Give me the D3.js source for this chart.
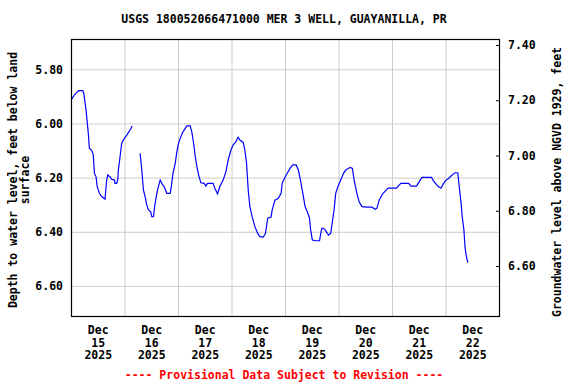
<!DOCTYPE html>
<html>
<head>
<meta charset="utf-8">
<script src="https://cdn.jsdelivr.net/npm/d3@7"></script>
<style>
  body { margin: 0; background: #fff; }
  text { font-family: "DejaVu Sans Mono", monospace; font-weight: bold; }
</style>
</head>
<body>
<div id="chart"></div>
<script>
// depth to water level, feet below land surface (null = gap in record)
const times = [
  "12-15 00:15","12-15 01:30","12-15 02:30","12-15 03:30","12-15 05:15","12-15 05:45","12-15 06:45","12-15 07:15",
  "12-15 07:45","12-15 08:15","12-15 09:15","12-15 10:00","12-15 10:30","12-15 11:15","12-15 11:45","12-15 12:45",
  "12-15 13:45","12-15 15:15","12-15 16:00","12-15 16:30","12-15 17:30","12-15 18:15","12-15 19:30","12-15 19:45",
  "12-15 20:30","12-15 21:00","12-15 21:15","12-15 22:00","12-15 22:45","12-15 23:30","12-16 01:00","12-16 02:30",
  "12-16 03:30","12-16 05:00",
  "12-16 07:00","12-16 07:45","12-16 08:30","12-16 09:15","12-16 10:00","12-16 10:45","12-16 11:45","12-16 12:15",
  "12-16 13:00","12-16 13:30","12-16 14:30","12-16 15:15","12-16 16:00","12-16 16:45","12-16 17:45","12-16 19:00",
  "12-16 20:30","12-16 21:00","12-16 21:45","12-16 22:45","12-16 23:30","12-17 00:15","12-17 01:00","12-17 02:00",
  "12-17 03:15","12-17 04:00","12-17 05:30","12-17 06:15","12-17 07:00","12-17 07:45","12-17 08:30","12-17 09:15",
  "12-17 10:15","12-17 11:45","12-17 12:30","12-17 13:15","12-17 15:45","12-17 16:30","12-17 17:45","12-17 18:45",
  "12-17 20:15","12-17 21:30","12-17 22:30","12-17 23:45","12-18 00:45","12-18 02:00","12-18 03:00","12-18 03:45",
  "12-18 05:15","12-18 06:00","12-18 06:45","12-18 07:30","12-18 08:15","12-18 09:15","12-18 10:30","12-18 11:45",
  "12-18 12:45","12-18 14:15","12-18 15:15","12-18 16:15","12-18 17:45","12-18 18:15","12-18 19:30","12-18 21:00",
  "12-18 22:15","12-18 22:45","12-18 23:45","12-19 01:00","12-19 02:15","12-19 03:30","12-19 05:00","12-19 06:00",
  "12-19 06:45","12-19 08:00","12-19 09:00","12-19 10:00","12-19 11:00","12-19 11:30","12-19 12:15","12-19 13:30",
  "12-19 15:30","12-19 15:45","12-19 16:30","12-19 17:15","12-19 18:00","12-19 19:00","12-19 19:30","12-19 20:30",
  "12-19 21:15","12-19 22:00","12-19 22:45","12-19 23:45","12-20 01:00","12-20 02:15","12-20 03:15","12-20 05:15",
  "12-20 06:15","12-20 07:00","12-20 08:15","12-20 09:15","12-20 10:30","12-20 12:45","12-20 15:00","12-20 16:30",
  "12-20 17:15","12-20 18:15","12-20 19:30","12-20 20:00","12-20 22:15","12-21 02:00","12-21 02:45","12-21 04:00",
  "12-21 07:30","12-21 08:30","12-21 11:00","12-21 11:45","12-21 12:30","12-21 13:30","12-21 17:45","12-21 18:30",
  "12-21 19:30","12-21 20:45","12-21 22:00","12-21 23:00","12-22 00:00","12-22 01:30","12-22 02:30","12-22 03:30",
  "12-22 04:15","12-22 05:30","12-22 06:00","12-22 07:00","12-22 07:30","12-22 08:15","12-22 08:45","12-22 09:15",
  "12-22 10:00"
];
const depths = [
  5.911,5.895,5.886,5.879,5.879,5.889,5.950,5.993,
  6.035,6.092,6.098,6.116,6.184,6.197,6.233,6.258,
  6.270,6.279,6.209,6.190,6.197,6.206,6.209,6.221,
  6.221,6.206,6.172,6.123,6.073,6.061,6.043,6.024,
  6.009,null,
  6.110,6.172,6.246,6.270,6.301,6.319,6.326,6.344,
  6.344,6.307,6.258,6.231,6.209,6.221,6.233,6.258,
  6.258,6.233,6.184,6.147,6.104,6.073,6.055,6.034,
  6.018,6.009,6.009,6.034,6.073,6.123,6.160,6.190,
  6.219,6.221,6.231,6.221,6.221,6.239,6.260,6.233,
  6.209,6.178,6.135,6.098,6.079,6.067,6.051,6.061,
  6.070,6.098,6.147,6.246,6.307,6.344,6.381,6.406,
  6.418,6.420,6.406,6.350,6.346,6.319,6.283,6.276,
  6.258,6.221,6.202,6.184,6.166,6.153,6.153,6.172,
  6.202,6.258,6.307,6.326,6.350,6.393,6.430,6.433,
  6.433,6.420,6.387,6.387,6.393,6.406,6.412,6.406,
  6.363,6.320,6.258,6.233,6.209,6.184,6.172,6.162,
  6.166,6.209,6.258,6.289,6.307,6.309,6.309,6.317,
  6.313,6.283,6.264,6.258,6.239,6.239,6.231,6.221,
  6.221,6.231,6.231,6.221,6.211,6.199,6.199,6.211,
  6.221,6.233,6.239,6.223,6.211,6.202,6.194,6.187,
  6.182,6.182,6.221,6.295,6.344,6.393,6.455,6.486,
  6.514
];
const leftTicks = [5.8, 6.0, 6.2, 6.4, 6.6];
const rightTicks = [7.4, 7.2, 7.0, 6.8, 6.6];
const dayTicks = ["12-15","12-16","12-17","12-18","12-19","12-20","12-21","12-22"];

const width = 576, height = 384;
const plotL = 71, plotR = 499, plotT = 39, plotB = 316;

const parse = d3.timeParse("%Y-%m-%d %H:%M");
const data = times.map((t, i) => ({ t: parse("2025-" + t), v: depths[i] }));

const svg = d3.select("#chart").append("svg")
    .attr("width", width)
    .attr("height", height);

const x = d3.scaleTime()
    .domain([parse("2025-12-15 00:00"), parse("2025-12-23 00:00")])
    .range([plotL, plotR]);
const yLeft = d3.scaleLinear().domain([5.688, 6.711]).range([plotT, plotB]);
const yRight = d3.scaleLinear().domain([7.4217, 6.419]).range([plotT, plotB]);

// vertical gridlines at midnight
svg.append("g")
    .attr("transform", `translate(0,${plotB})`)
    .call(d3.axisBottom(x)
        .tickValues(d3.range(1, 8).map(i => parse("2025-" + dayTicks[i] + " 00:00")))
        .tickSize(-(plotB - plotT))
        .tickFormat(""))
    .call(g => g.select(".domain").remove())
    .call(g => g.selectAll("line").attr("stroke", "#cccccc"));

// horizontal gridlines + left labels
svg.append("g")
    .attr("transform", `translate(${plotL},0)`)
    .call(d3.axisLeft(yLeft)
        .tickValues(leftTicks)
        .tickSize(-(plotR - plotL))
        .tickPadding(8)
        .tickFormat(d3.format(".2f")))
    .call(g => g.select(".domain").remove())
    .call(g => g.selectAll("line").attr("stroke", "#cccccc"))
    .call(g => g.selectAll("text")
        .attr("fill", "#000")
        .style("font-size", "11.5px"));

// right axis
svg.append("g")
    .attr("transform", `translate(${plotR},0)`)
    .call(d3.axisRight(yRight)
        .tickValues(rightTicks)
        .tickSize(-3)
        .tickPadding(9)
        .tickFormat(d3.format(".2f")))
    .call(g => g.select(".domain").remove())
    .call(g => g.selectAll("line").attr("stroke", "#000"))
    .call(g => g.selectAll("text")
        .attr("fill", "#000")
        .style("font-size", "11.5px"));

// x labels at noon
const xLab = svg.append("g")
    .attr("transform", `translate(0,${plotB})`)
    .call(d3.axisBottom(x)
        .tickValues(dayTicks.map(d => parse("2025-" + d + " 12:00")))
        .tickSize(0)
        .tickFormat(""));
xLab.select(".domain").remove();
xLab.selectAll(".tick").each(function (d) {
    const t = d3.select(this).append("text")
        .attr("fill", "#000")
        .attr("text-anchor", "middle")
        .style("font-size", "11.5px");
    [d3.timeFormat("%b")(d), d3.timeFormat("%d")(d), d3.timeFormat("%Y")(d)].forEach((s, i) => {
        t.append("tspan").attr("x", 0).attr("y", 18 + i * 12.7).text(s);
    });
});

// data line
const line = d3.line()
    .defined(d => d.v !== null)
    .x(d => x(d.t))
    .y(d => yLeft(d.v));

svg.append("path")
    .datum(data)
    .attr("d", line)
    .attr("fill", "none")
    .attr("stroke", "#0000ff")
    .attr("stroke-width", 1.2);

// frame
svg.append("rect")
    .attr("x", plotL + 0.5)
    .attr("y", plotT + 0.5)
    .attr("width", plotR - plotL)
    .attr("height", plotB - plotT)
    .attr("fill", "none")
    .attr("stroke", "#000")
    .attr("stroke-width", 1.2);

svg.append("text")
    .attr("x", 284)
    .attr("y", 23)
    .attr("text-anchor", "middle")
    .style("font-size", "11.5px")
    .text("USGS 180052066471000 MER 3 WELL, GUAYANILLA, PR");

const yl = svg.append("text")
    .attr("transform", "translate(13,180) rotate(-90)")
    .attr("text-anchor", "middle")
    .style("font-size", "11.5px");
yl.append("tspan").attr("x", 0).attr("y", 4).text("Depth to water level, feet below land");
yl.append("tspan").attr("x", 0).attr("y", 16).text("surface");

svg.append("text")
    .attr("transform", "translate(557,182) rotate(-90)")
    .attr("text-anchor", "middle")
    .attr("dy", "0.35em")
    .style("font-size", "11.5px")
    .text("Groundwater level above NGVD 1929, feet");

svg.append("text")
    .attr("x", 284)
    .attr("y", 379)
    .attr("text-anchor", "middle")
    .attr("fill", "#ff0000")
    .style("font-size", "11.5px")
    .text("---- Provisional Data Subject to Revision ----");
</script>
</body>
</html>
